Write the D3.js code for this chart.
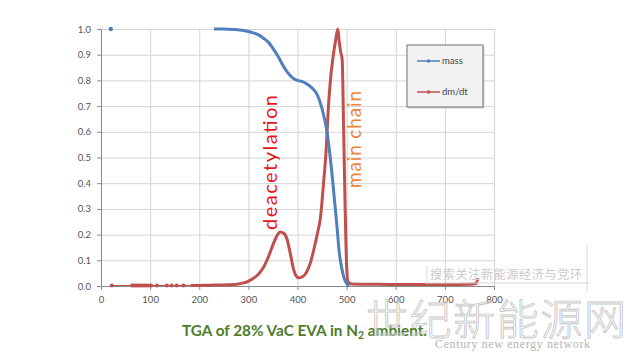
<!DOCTYPE html>
<html>
<head>
<meta charset="utf-8">
<script src="https://cdn.jsdelivr.net/npm/d3@7"></script>
<style>
  body { margin: 0; background: #fff; }
  svg { display: block; }
</style>
</head>
<body>
<script>
const width = 640, height = 354;

// mass curve (normalised), temperature in °C
const massT = [230, 250, 270, 290, 300, 310, 320, 330, 340, 350, 360, 370, 380, 390, 400, 410, 420, 430, 440, 450, 460, 470, 475, 480, 485, 490, 495, 500, 505];
const massV = [1.0, 1.0, 0.998, 0.994, 0.99, 0.985, 0.978, 0.965, 0.95, 0.925, 0.895, 0.86, 0.83, 0.81, 0.80, 0.795, 0.785, 0.77, 0.745, 0.69, 0.6, 0.44, 0.34, 0.24, 0.13, 0.07, 0.03, 0.01, 0.0];
const massDots = [20];   // lone early reading at 1.0

// dm/dt curve (normalised)
const dmdtT = [182, 200, 220, 240, 260, 280, 290, 300, 310, 320, 330, 340, 350, 358, 365, 372, 379, 386, 392, 397, 402, 410, 420, 427, 433, 440, 447, 453, 458, 463, 468, 473, 478, 482, 485, 488, 491, 494, 497, 500, 503, 510, 550, 600, 650, 700, 750, 764, 767];
const dmdtV = [0.002, 0.002, 0.003, 0.004, 0.005, 0.008, 0.012, 0.018, 0.03, 0.045, 0.07, 0.11, 0.16, 0.195, 0.21, 0.205, 0.18, 0.12, 0.065, 0.04, 0.032, 0.036, 0.06, 0.095, 0.14, 0.2, 0.27, 0.4, 0.52, 0.7, 0.82, 0.9, 0.96, 1.0, 0.95, 0.91, 0.88, 0.6, 0.3, 0.08, 0.015, 0.008, 0.007, 0.006, 0.006, 0.006, 0.007, 0.01, 0.03];
const dmdtDots = [22, 63, 66, 70, 73, 77, 80, 84, 88, 92, 97, 102, 114, 134, 144, 154, 168];

const xTicks = [0, 100, 200, 300, 400, 500, 600, 700, 800];
const yTicks = [0, 0.1, 0.2, 0.3, 0.4, 0.5, 0.6, 0.7, 0.8, 0.9, 1.0];

const blue = "#4f7fbd", red = "#c0504d";

const svg = d3.select("body").append("svg")
  .attr("width", width)
  .attr("height", height);

const x = d3.scaleLinear().domain([0, 800]).range([101, 494]);
const y = d3.scaleLinear().domain([0, 1]).range([286, 29]);

// gridlines
svg.append("g")
  .attr("transform", "translate(0,286)")
  .call(d3.axisBottom(x).tickValues(xTicks.slice(1)).tickSize(-257).tickFormat(""))
  .call(g => g.select(".domain").remove())
  .call(g => g.selectAll("line").attr("stroke", "#d4d4d4"));
svg.append("g")
  .attr("transform", "translate(101,0)")
  .call(d3.axisLeft(y).tickValues(yTicks.slice(1)).tickSize(-393).tickFormat(""))
  .call(g => g.select(".domain").remove())
  .call(g => g.selectAll("line").attr("stroke", "#d4d4d4"));

// axes
const xAxis = svg.append("g")
  .attr("transform", "translate(0,286)")
  .call(d3.axisBottom(x).tickValues(xTicks).tickSize(4).tickPadding(6).tickSizeOuter(0));
const yAxis = svg.append("g")
  .attr("transform", "translate(101,0)")
  .call(d3.axisLeft(y).tickValues(yTicks).tickSize(4).tickPadding(6).tickSizeOuter(0).tickFormat(d3.format(".1f")));
[xAxis, yAxis].forEach(g => {
  g.select(".domain").attr("stroke", "#8a8a8a");
  g.selectAll("line").attr("stroke", "#8a8a8a");
  g.selectAll("text").attr("fill", "#555").style("font-family", "Lato, 'Open Sans', sans-serif").style("font-size", "9.5px");
});

const line = d3.line()
  .x(d => x(d[0]))
  .y(d => y(d[1]))
  .curve(d3.curveMonotoneX);

// dm/dt
svg.append("path")
  .datum(dmdtDots.map(t => [t, 0.002]).concat([[dmdtT[0], dmdtV[0]]]))
  .attr("fill", "none")
  .attr("stroke", red)
  .attr("stroke-width", 1)
  .attr("d", line);
svg.selectAll(".rdot")
  .data(dmdtDots)
  .enter().append("circle")
  .attr("class", "rdot")
  .attr("cx", d => x(d))
  .attr("cy", y(0.002))
  .attr("r", 2)
  .attr("fill", red);
svg.append("path")
  .datum(dmdtT.map((t, i) => [t, dmdtV[i]]))
  .attr("fill", "none")
  .attr("stroke", red)
  .attr("stroke-width", 3)
  .attr("stroke-linejoin", "round")
  .attr("d", line);

// mass
svg.append("path")
  .datum(massT.map((t, i) => [t, massV[i]]))
  .attr("fill", "none")
  .attr("stroke", blue)
  .attr("stroke-width", 3)
  .attr("stroke-linejoin", "round")
  .attr("d", line);
svg.selectAll(".bdot")
  .data(massDots)
  .enter().append("circle")
  .attr("class", "bdot")
  .attr("cx", d => x(d))
  .attr("cy", y(1))
  .attr("r", 2.2)
  .attr("fill", blue);

// annotations
svg.append("text")
  .attr("transform", "translate(277,230) rotate(-90)")
  .attr("fill", "#e8141c")
  .style("font-family", "Lato, 'Open Sans', sans-serif")
  .style("font-size", "20px")
  .attr("textLength", 135)
  .text("deacetylation");
svg.append("text")
  .attr("transform", "translate(361,188) rotate(-90)")
  .attr("fill", "#ec853a")
  .style("font-family", "Lato, 'Open Sans', sans-serif")
  .style("font-size", "19px")
  .attr("textLength", 97)
  .text("main chain");

// legend
const legend = svg.append("g").attr("transform", "translate(407,45)");
legend.append("rect")
  .attr("x", 1.5).attr("y", 1.5)
  .attr("width", 76).attr("height", 62)
  .attr("fill", "#cfcfcf");
legend.append("rect")
  .attr("width", 76).attr("height", 62)
  .attr("fill", "#f2f2f2")
  .attr("stroke", "#707070");
const items = [["mass", blue, 16], ["dm/dt", red, 47]];
items.forEach(([label, c, ly]) => {
  legend.append("line")
    .attr("x1", 10).attr("x2", 33).attr("y1", ly).attr("y2", ly)
    .attr("stroke", c).attr("stroke-width", 1.5);
  legend.append("circle")
    .attr("cx", 21.5).attr("cy", ly).attr("r", 1.8).attr("fill", c);
  legend.append("text")
    .attr("x", 35).attr("y", ly).attr("dy", "0.35em")
    .attr("fill", "#444")
    .style("font-family", "Lato, 'Open Sans', sans-serif")
    .style("font-size", "9.5px")
    .text(label);
});

// title
const title = svg.append("text")
  .attr("x", 182).attr("y", 336)
  .attr("fill", "#4e7c2c")
  .style("font-family", "Lato, 'Open Sans', sans-serif")
  .style("font-size", "16px")
  .style("font-weight", "bold")
  .attr("textLength", 245)
  .attr("lengthAdjust", "spacingAndGlyphs");
title.append("tspan").text("TGA of 28% VaC EVA in N");
title.append("tspan").attr("dy", 3).style("font-size", "11px").text("2");
title.append("tspan").attr("dy", -3).text(" ambient.");

// watermark
const wm = svg.append("g").attr("pointer-events", "none");
wm.append("line").attr("x1", 425).attr("x2", 590).attr("y1", 283).attr("y2", 283).attr("stroke", "#d6d6d6");
wm.append("line").attr("x1", 587).attr("x2", 587).attr("y1", 245).attr("y2", 292).attr("stroke", "#d6d6d6");
wm.append("line").attr("x1", 427).attr("x2", 427).attr("y1", 266).attr("y2", 283).attr("stroke", "#dcdcdc");
wm.append("text")
  .attr("x", 430).attr("y", 279)
  .attr("fill", "#cacaca")
  .style("font-family", "'Noto Sans CJK SC', sans-serif")
  .style("font-size", "12px")
  .attr("textLength", 152)
  .text("搜索关注新能源经济与党环");
wm.append("text")
  .attr("x", 366).attr("y", 335)
  .attr("fill", "none")
  .attr("stroke", "#c8c8c8")
  .attr("stroke-width", 0.9)
  .style("font-family", "'Noto Sans CJK SC', sans-serif")
  .style("font-size", "42px")
  .style("font-weight", "300")
  .attr("textLength", 260)
  .text("世纪新能源网");
wm.append("text")
  .attr("x", 435).attr("y", 348)
  .attr("fill", "#b4b4b4")
  .style("font-family", "'Liberation Serif', serif")
  .style("font-size", "12px")
  .attr("textLength", 155)
  .text("Century new energy network");
</script>
</body>
</html>
